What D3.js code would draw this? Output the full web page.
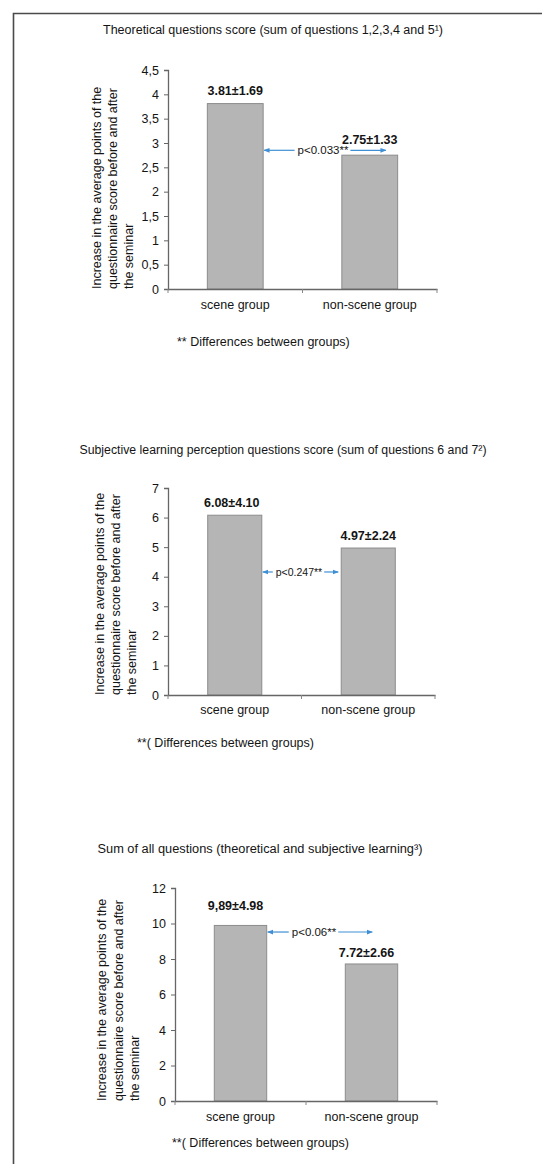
<!DOCTYPE html>
<html>
<head>
<meta charset="utf-8">
<script src="https://cdn.jsdelivr.net/npm/d3@7"></script>
<style>
  html, body { margin: 0; padding: 0; background: #fff; }
  svg { display: block; font-family: "Liberation Sans", Arial, sans-serif; }
</style>
</head>
<body>
<svg id="fig" width="542" height="1164"></svg>
<script>
// ---- data ----
const groups = ["scene group", "non-scene group"];

const theoreticalMeans = [3.81, 2.75];
const theoreticalLabels = ["3.81±1.69", "2.75±1.33"];
const theoreticalTicks = [0, 0.5, 1, 1.5, 2, 2.5, 3, 3.5, 4, 4.5];
const theoreticalTickLabels = ["0", "0,5", "1", "1,5", "2", "2,5", "3", "3,5", "4", "4,5"];

const subjectiveMeans = [6.08, 4.97];
const subjectiveLabels = ["6.08±4.10", "4.97±2.24"];
const subjectiveTicks = [0, 1, 2, 3, 4, 5, 6, 7];
const subjectiveTickLabels = ["0", "1", "2", "3", "4", "5", "6", "7"];

const totalMeans = [9.89, 7.72];
const totalLabels = ["9,89±4.98", "7.72±2.66"];
const totalTicks = [0, 2, 4, 6, 8, 10, 12];
const totalTickLabels = ["0", "2", "4", "6", "8", "10", "12"];

const pValues = ["p<0.033**", "p<0.247**", "p<0.06**"];
const titles = [
  "Theoretical questions score (sum of questions 1,2,3,4 and 5¹)",
  "Subjective learning perception questions score (sum of questions 6 and 7²)",
  "Sum of all questions  (theoretical and subjective learning³)"
];
const footnotes = [
  "** Differences between groups)",
  "**( Differences between groups)",
  "**( Differences between groups)"
];
const yTitleLines = [
  "Increase in the average points of the",
  "questionnaire score before and after",
  "the seminar"
];

// ---- drawing ----
const svg = d3.select("#fig");
const ink = "#141414";
const arrowBlue = "#3f8fd4";

svg.append("rect").attr("width", 542).attr("height", 1164).attr("fill", "#fff");

// page frame
svg.append("path")
  .attr("d", "M13.5,1164 V13.5 H542")
  .attr("fill", "none").attr("stroke", "#4a4a4a").attr("stroke-width", 1.6);

const defs = svg.append("defs");
defs.append("marker").attr("id", "head").attr("viewBox", "0 0 10 10")
  .attr("refX", 9).attr("refY", 5).attr("markerWidth", 5).attr("markerHeight", 5)
  .attr("orient", "auto-start-reverse")
  .append("path").attr("d", "M0,1 L10,5 L0,9 Z").attr("fill", arrowBlue);

function drawChart(c) {
  const g = svg.append("g");

  const x = d3.scaleBand().domain(groups)
    .range([c.left, c.right]).paddingInner(c.padIn).paddingOuter(c.padIn / 2);
  const y = d3.scaleLinear().domain([0, c.ticks[c.ticks.length - 1]])
    .range([c.bottom, c.top]);

  // title
  g.append("text").attr("x", c.titleX).attr("y", c.titleY)
    .attr("text-anchor", "middle").attr("font-size", 12.5).attr("fill", ink)
    .attr("textLength", c.titleW).attr("lengthAdjust", "spacingAndGlyphs")
    .text(c.title);

  // rotated y title
  yTitleLines.forEach((line, i) => {
    g.append("text")
      .attr("transform", `translate(${c.yTitleX[i]},${c.bottom}) rotate(-90)`)
      .attr("font-size", 12.5).attr("fill", ink).text(line);
  });

  // bars
  g.selectAll("rect.bar").data(c.means).join("rect").attr("class", "bar")
    .attr("x", (d, i) => x(groups[i]))
    .attr("width", x.bandwidth())
    .attr("y", d => y(d))
    .attr("height", d => y(0) - y(d))
    .attr("fill", "#b5b5b5").attr("stroke", "#8c8c8c").attr("stroke-width", 1);

  // value labels
  g.selectAll("text.val").data(c.means).join("text").attr("class", "val")
    .attr("x", (d, i) => x(groups[i]) + x.bandwidth() / 2 + c.labelDx[i])
    .attr("y", (d, i) => y(d) - c.labelGap[i])
    .attr("text-anchor", "middle").attr("font-size", 12.5).attr("font-weight", "bold")
    .attr("fill", ink).text((d, i) => c.labels[i]);

  // y axis
  const ya = g.append("g").attr("transform", `translate(${c.left},0)`)
    .call(d3.axisLeft(y).tickValues(c.ticks)
      .tickFormat((d, i) => c.tickLabels[i]).tickSize(4).tickPadding(5));
  ya.select(".domain").attr("stroke", "#666").attr("stroke-width", 1.3);
  ya.selectAll(".tick line").attr("stroke", "#666");
  ya.selectAll(".tick text").attr("font-size", 12.5).attr("fill", ink)
    .attr("font-family", "Liberation Sans, Arial, sans-serif");

  // x axis with category boundary ticks
  const xa = g.append("g").attr("transform", `translate(0,${c.bottom})`)
    .call(d3.axisBottom(x).tickSize(0).tickPadding(c.catPad).tickSizeOuter(0));
  xa.select(".domain").attr("stroke", "#666").attr("stroke-width", 1.3);
  xa.selectAll(".tick text").attr("font-size", 12.5).attr("fill", ink)
    .attr("font-family", "Liberation Sans, Arial, sans-serif");
  const bounds = [c.left, c.left + x.step(), c.right];
  xa.selectAll("line.bound").data(bounds).join("line").attr("class", "bound")
    .attr("x1", d => d).attr("x2", d => d).attr("y1", 0).attr("y2", 4)
    .attr("stroke", "#888");

  // significance arrow
  const ay = y(c.arrowLevel);
  const ax0 = x(groups[0]) + x.bandwidth() + 1;
  const ax1 = x(groups[1]) + c.arrowEnd;
  const pt = g.append("text").attr("x", c.pX).attr("y", ay)
    .attr("dy", "0.35em").attr("text-anchor", "middle")
    .attr("font-size", c.pSize).attr("fill", ink).text(c.p);
  const w = pt.node().getComputedTextLength();
  g.append("line").attr("x1", c.pX - w / 2 - 3).attr("x2", ax0).attr("y1", ay).attr("y2", ay)
    .attr("stroke", arrowBlue).attr("stroke-width", 1.2).attr("marker-end", "url(#head)");
  g.append("line").attr("x1", c.pX + w / 2 + 2).attr("x2", ax1).attr("y1", ay).attr("y2", ay)
    .attr("stroke", arrowBlue).attr("stroke-width", 1.2).attr("marker-end", "url(#head)");

  // footnote
  g.append("text").attr("x", c.footX).attr("y", c.footY)
    .attr("font-size", 12.5).attr("fill", ink).text(c.foot);
}

drawChart({
  title: titles[0], titleX: 273, titleY: 34, titleW: 340,
  means: theoreticalMeans, labels: theoreticalLabels,
  ticks: theoreticalTicks, tickLabels: theoreticalTickLabels,
  left: 168, right: 437, top: 70, bottom: 289, padIn: 0.585,
  yTitleX: [101, 117, 133],
  labelGap: [9, 11], labelDx: [0, 0],
  catPad: 11,
  p: pValues[0], pX: 323, pSize: 11.5, arrowLevel: 2.85, arrowEnd: 44,
  foot: footnotes[0], footX: 177, footY: 346
});

drawChart({
  title: titles[1], titleX: 283, titleY: 454, titleW: 407,
  means: subjectiveMeans, labels: subjectiveLabels,
  ticks: subjectiveTicks, tickLabels: subjectiveTickLabels,
  left: 168, right: 435, top: 488, bottom: 695, padIn: 0.595,
  yTitleX: [104, 120, 136],
  labelGap: [8, 8], labelDx: [-3, 0],
  catPad: 10,
  p: pValues[1], pX: 299, pSize: 10.5, arrowLevel: 4.16, arrowEnd: -3,
  foot: footnotes[1], footX: 137, footY: 747
});

drawChart({
  title: titles[2], titleX: 260, titleY: 853, titleW: 325,
  means: totalMeans, labels: totalLabels,
  ticks: totalTicks, tickLabels: totalTickLabels,
  left: 175, right: 437, top: 888, bottom: 1101, padIn: 0.6,
  yTitleX: [106, 123, 139],
  labelGap: [15, 7], labelDx: [-5, -5],
  catPad: 11,
  p: pValues[2], pX: 314, pSize: 11.5, arrowLevel: 9.52, arrowEnd: 27,
  foot: footnotes[2], footX: 172, footY: 1147
});
</script>
</body>
</html>
